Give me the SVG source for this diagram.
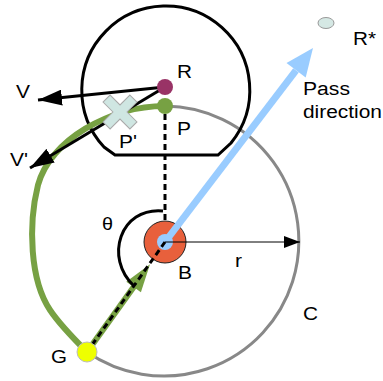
<svg xmlns="http://www.w3.org/2000/svg" width="383" height="381" viewBox="0 0 383 381">
  <style>
    .lbl { font-family: "Liberation Sans", Arial, sans-serif; font-size: 18px; fill: #000; }
    .blk { stroke: #000; fill: none; }
  </style>
  <defs>
    <marker id="headBig" markerUnits="userSpaceOnUse" markerWidth="24" markerHeight="16" refX="24" refY="8" orient="auto">
      <path d="M0,0 L24,8 L0,16 z" fill="#000"/>
    </marker>
    <marker id="headSmall" markerUnits="userSpaceOnUse" markerWidth="16" markerHeight="12" refX="16" refY="6" orient="auto">
      <path d="M0,0 L16,6 L0,12 z" fill="#000"/>
    </marker>
  </defs>
  <rect width="383" height="381" fill="#fff"/>

  <g id="circle-C">
    <path d="M165 106 A135 135 0 1 1 87 352" fill="none" stroke="#888" stroke-width="3"/>
    <text class="lbl" x="303" y="320" textLength="15" lengthAdjust="spacingAndGlyphs">C</text>
  </g>

  <g id="robot">
    <path d="M115 155 L218 155 L231 143 A84 84 0 1 0 104 147 Z" class="blk" stroke-width="3"/>
  </g>

  <g id="connectors">
    <path id="green-path" d="M165 106 C110 106 50 140 38 185 C28 225 30 280 50 310 C60 325 75 340 87 352" fill="none" stroke="#77a143" stroke-width="6"/>
    <line x1="165" y1="87" x2="38" y2="100" class="blk" stroke-width="3" marker-end="url(#headBig)"/>
    <line x1="165" y1="87" x2="30" y2="168" class="blk" stroke-width="3" marker-end="url(#headBig)"/>
    <line x1="165" y1="114" x2="165" y2="242" class="blk" stroke-width="3" stroke-dasharray="6 4"/>
  </g>

  <g id="P-prime">
    <polygon transform="translate(120 112) rotate(45)" points="-5,-19 5,-19 5,-5 19,-5 19,5 5,5 5,19 -5,19 -5,5 -19,5 -19,-5 -5,-5" fill="#cfe6e2" stroke="#aaa" stroke-width="1"/>
    <text class="lbl" x="119" y="148" textLength="18" lengthAdjust="spacingAndGlyphs">P'</text>
  </g>

  <g id="R">
    <circle cx="165" cy="87" r="8" fill="#993366"/>
    <text class="lbl" x="177" y="78" textLength="15" lengthAdjust="spacingAndGlyphs">R</text>
  </g>

  <g id="P">
    <circle cx="165" cy="106" r="8" fill="#77a143"/>
    <text class="lbl" x="177" y="135" textLength="14" lengthAdjust="spacingAndGlyphs">P</text>
  </g>

  <g id="V">
    <text class="lbl" x="16" y="98" textLength="14" lengthAdjust="spacingAndGlyphs">V</text>
  </g>
  <g id="V-prime">
    <text class="lbl" x="10" y="166" textLength="18" lengthAdjust="spacingAndGlyphs">V'</text>
  </g>

  <g id="B">
    <circle cx="165" cy="242" r="21" fill="#e8603c" stroke="#222" stroke-width="1"/>
    <circle cx="165" cy="242" r="8" fill="#99ccff"/>
    <text class="lbl" x="178" y="279" textLength="14" lengthAdjust="spacingAndGlyphs">B</text>
  </g>

  <g id="pass-arrow">
    <line x1="165" y1="242" x2="296" y2="70.3" stroke="#99ccff" stroke-width="7"/>
    <polygon points="313,48 305.7,77.6 286.5,63" fill="#99ccff"/>
  </g>

  <g id="r-arrow">
    <line x1="165" y1="242" x2="300" y2="242" stroke="#000" stroke-width="1" marker-end="url(#headSmall)"/>
    <text class="lbl" x="235" y="267" textLength="7" lengthAdjust="spacingAndGlyphs">r</text>
  </g>

  <g id="G-arrow">
    <line x1="87" y1="352" x2="134" y2="286.5" stroke="#77a143" stroke-width="6"/>
    <polygon points="150,264.3 140.9,292.2 126.3,281.8" fill="#77a143"/>
    <line x1="165" y1="242" x2="87" y2="352" class="blk" stroke-width="3" stroke-dasharray="6 4"/>
  </g>

  <g id="theta">
    <path d="M163 211 C120 207 104 258 134 286" class="blk" stroke-width="3"/>
    <text class="lbl" x="102" y="230" textLength="11" lengthAdjust="spacingAndGlyphs">θ</text>
  </g>

  <g id="G">
    <circle cx="87" cy="352" r="10" fill="#eeff00" stroke="#bbb" stroke-width="1"/>
    <text class="lbl" x="51" y="363" textLength="16" lengthAdjust="spacingAndGlyphs">G</text>
  </g>

  <g id="R-star">
    <ellipse cx="326" cy="23" rx="8" ry="5.5" fill="#d5e8e4" stroke="#999" stroke-width="1"/>
    <text class="lbl" x="353" y="45" textLength="23" lengthAdjust="spacingAndGlyphs">R*</text>
  </g>

  <g id="pass-label">
    <text class="lbl" x="303" y="95" textLength="47" lengthAdjust="spacingAndGlyphs">Pass</text>
    <text class="lbl" x="303" y="118" textLength="79" lengthAdjust="spacingAndGlyphs">direction</text>
  </g>
</svg>
